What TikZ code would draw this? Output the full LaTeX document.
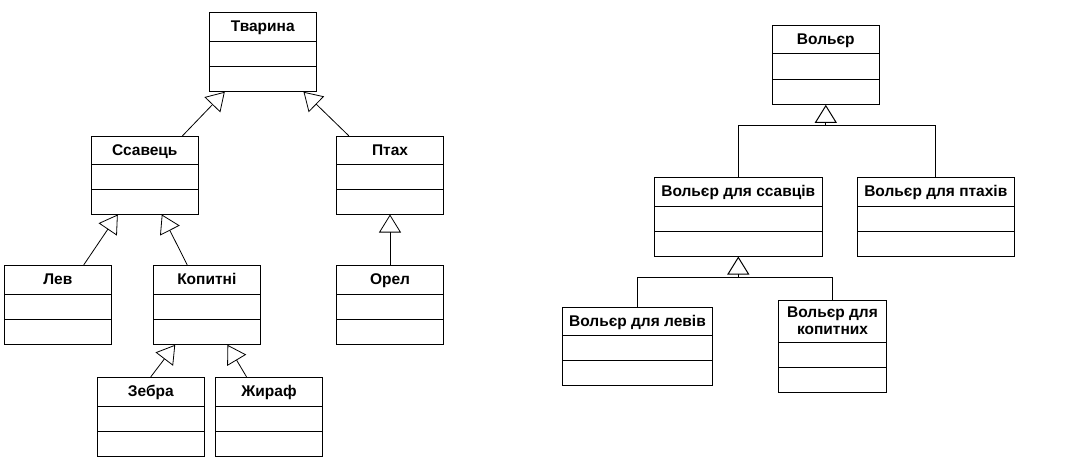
\documentclass[tikz,border=0pt]{standalone}
\usepackage{fontspec}
\setmainfont{Liberation Sans}
\usetikzlibrary{arrows.meta,fit}
\tikzset{
  clsbox/.style={draw, line width=1pt, inner sep=0pt},
  divline/.style={line width=1pt},
  clstitle/.style={font=\fontsize{15.5}{17.5}\selectfont\bfseries, inner sep=0pt, anchor=base},
  gen/.style={-{Triangle[open, length=18pt, width=22pt]}, line width=0.8pt},
  bus/.style={line width=1pt},
}
\newcommand{\umlcls}[8]{%
  \node[clsbox, fit={(#2,#3) (#4,#5)}] (#1) {};
  \draw[divline] (#2,#6) -- (#4,#6);
  \draw[divline] (#2,#7) -- (#4,#7);
  \node[clstitle] (#1-t) at ({(#2+#4)/2},{#3+19}) {#8};
}
\begin{document}
\begin{tikzpicture}[x=1pt,y=-1pt]
\useasboundingbox (0,0) rectangle (1087,460);
% left hierarchy
\umlcls{tv}{209.3}{12.3}{316.3}{91.3}{41.7}{66.7}{Тварина}
\umlcls{ss}{91.3}{136.3}{198.3}{214}{164.3}{189.3}{Ссавець}
\umlcls{pt}{336.7}{136.3}{443.3}{214}{164.3}{189.3}{Птах}
\umlcls{lv}{4.3}{265.3}{111.3}{344.3}{294}{319.3}{Лев}
\umlcls{kp}{153.3}{265.3}{260.3}{344.3}{294}{319.3}{Копитні}
\umlcls{or}{336.7}{265.3}{443.3}{344.3}{294}{319.3}{Орел}
\umlcls{zb}{97.3}{377.3}{204.3}{456.3}{406.7}{431.7}{Зебра}
\umlcls{zh}{215.7}{377.3}{322.3}{456.3}{406.7}{431.7}{Жираф}
\draw[gen] ([xshift=91.7pt]ss.north west) -- ([xshift=16pt]tv.south west);
\draw[gen] ([xshift=12.6pt]pt.north west) -- ([xshift=94.7pt]tv.south west);
\draw[gen] ([xshift=80pt]lv.north west) -- ([xshift=27pt]ss.south west);
\draw[gen] ([xshift=34.4pt]kp.north west) -- ([xshift=71pt]ss.south west);
\draw[gen] (or.north) -- (pt.south);
\draw[gen] (zb.north) -- ([xshift=22.4pt]kp.south west);
\draw[gen] ([xshift=31.3pt]zh.north west) -- ([xshift=74.7pt]kp.south west);
% right hierarchy
\umlcls{vo}{772.3}{26}{879.3}{104.3}{54}{79.3}{Вольєр}
\umlcls{vm}{654.3}{177.3}{822.3}{256}{206.7}{231.3}{Вольєр для ссавців}
\umlcls{vp}{857.3}{177.3}{1014.3}{256}{206.7}{231.3}{Вольєр для птахів}
\umlcls{vl}{562.7}{307.3}{712.3}{385.3}{335.7}{360.7}{Вольєр для левів}
\node[clsbox, fit={(778.7,300.3) (886.3,392.3)}] (vk) {};
\draw[divline] (778.7,342.7) -- (886.3,342.7);
\draw[divline] (778.7,367.3) -- (886.3,367.3);
\node[font=\fontsize{15.5}{17.5}\selectfont\bfseries, inner sep=0pt, align=center] (vk-t) at (832.5,320.5) {Вольєр для\\копитних};
\coordinate (b1) at (vo.south |- 0,125.3);
\coordinate (b2) at (vm.south |- 0,277.3);
\draw[bus] (vm.north) |- (b1) -| (vp.north);
\draw[gen, line width=1pt] (b1) -- (vo.south);
\draw[bus] (vl.north) |- (b2) -| (vk.north);
\draw[gen, line width=1pt] (b2) -- (vm.south);
\end{tikzpicture}
\end{document}
